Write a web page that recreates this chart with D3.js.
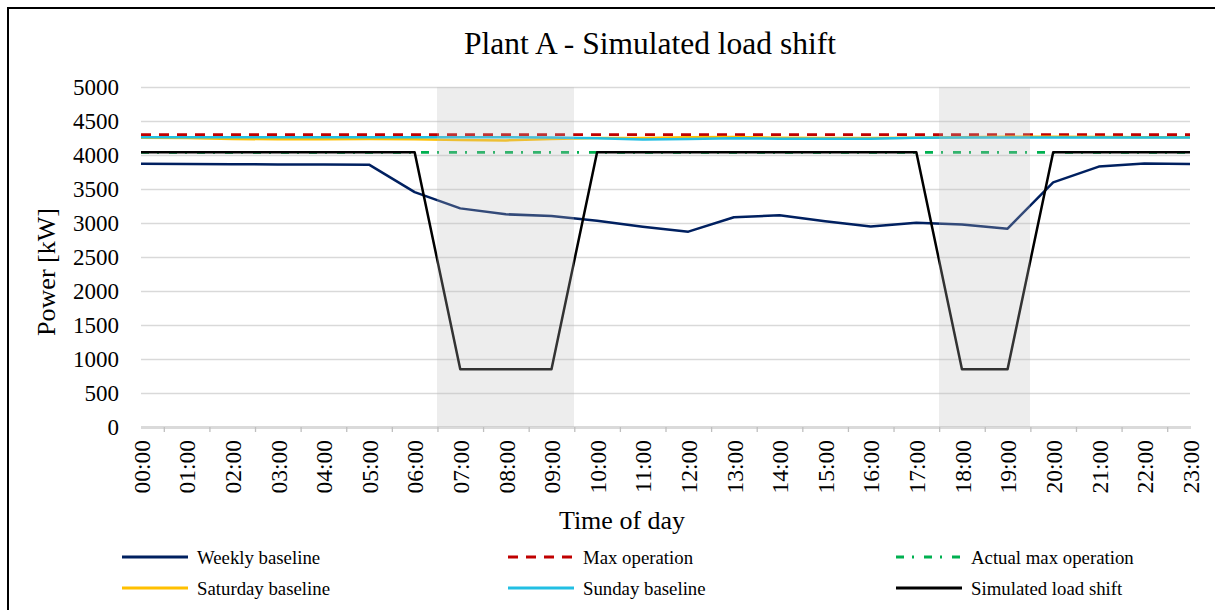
<!DOCTYPE html>
<html>
<head>
<meta charset="utf-8">
<script src="https://cdn.jsdelivr.net/npm/d3@7"></script>
<style>
    body { margin: 0; background: #fff; }
    svg { display: block; }
    svg text { font-family: "Liberation Serif", "Times New Roman", serif; fill: #000; }
</style>
</head>
<body>
<div id="chart"></div>
<script>
// ==========================
// Data
// ==========================
const hours = ["00:00", "01:00", "02:00", "03:00", "04:00", "05:00", "06:00", "07:00",
    "08:00", "09:00", "10:00", "11:00", "12:00", "13:00", "14:00", "15:00",
    "16:00", "17:00", "18:00", "19:00", "20:00", "21:00", "22:00", "23:00"];

const weeklyBaseline = [3872, 3868, 3865, 3862, 3860, 3858, 3455, 3215, 3128, 3103, 3032, 2945,
    2873, 3084, 3115, 3025, 2948, 3004, 2978, 2917, 3598, 3830, 3875, 3868];
const maxOperation = [4300, 4300, 4300, 4300, 4300, 4300, 4300, 4300, 4300, 4300, 4300, 4300,
    4300, 4300, 4300, 4300, 4300, 4300, 4300, 4300, 4300, 4300, 4300, 4300];
const actualMaxOperation = [4040, 4040, 4040, 4040, 4040, 4040, 4040, 4040, 4040, 4040, 4040, 4040,
    4040, 4040, 4040, 4040, 4040, 4040, 4040, 4040, 4040, 4040, 4040, 4040];
const saturdayBaseline = [4255, 4250, 4235, 4232, 4232, 4235, 4232, 4220, 4215, 4235, 4250, 4250,
    4262, 4265, 4255, 4250, 4250, 4255, 4260, 4268, 4268, 4265, 4262, 4262];
const sundayBaseline = [4262, 4262, 4260, 4260, 4260, 4260, 4262, 4262, 4260, 4258, 4245, 4228,
    4235, 4245, 4240, 4240, 4240, 4255, 4258, 4258, 4258, 4258, 4258, 4258];
const simulatedLoadShift = [4040, 4040, 4040, 4040, 4040, 4040, 4040, 850, 850, 850, 4040, 4040,
    4040, 4040, 4040, 4040, 4040, 4040, 850, 850, 4040, 4040, 4040, 4040];
// peak windows (grey columns)
const peakWindow = [0, 0, 0, 0, 0, 0, 0, 5000, 5000, 5000, 0, 0,
    0, 0, 0, 0, 0, 0, 5000, 5000, 0, 0, 0, 0];

const yTicks = [0, 500, 1000, 1500, 2000, 2500, 3000, 3500, 4000, 4500, 5000];

const series = [
    { name: "Weekly baseline", values: weeklyBaseline, color: "#002060", dash: null },
    { name: "Max operation", values: maxOperation, color: "#c00000", dash: "10,8" },
    { name: "Actual max operation", values: actualMaxOperation, color: "#00b050", dash: "8,8,2,10" },
    { name: "Saturday baseline", values: saturdayBaseline, color: "#ffc000", dash: null },
    { name: "Sunday baseline", values: sundayBaseline, color: "#22bfe3", dash: null },
    { name: "Simulated load shift", values: simulatedLoadShift, color: "#000000", dash: null }
];

// ==========================
// Chart
// ==========================
const W = 1215, H = 610;
const plot = { left: 141, right: 1190, top: 87, bottom: 427 };

const svg = d3.select("#chart")
    .append("svg")
    .attr("width", W)
    .attr("height", H);

// outer frame (only left/top edges are visible in the original)
svg.append("rect")
    .attr("x", 8).attr("y", 8)
    .attr("width", W).attr("height", H)
    .attr("fill", "none")
    .attr("stroke", "#000")
    .attr("stroke-width", 2);

const x = d3.scaleLinear().domain([0, hours.length - 1]).range([plot.left, plot.right]);
const y = d3.scaleLinear().domain([0, 5000]).range([plot.bottom, plot.top]);

// gridlines
svg.append("g")
    .attr("transform", `translate(${plot.left},0)`)
    .call(d3.axisLeft(y).tickValues(yTicks.slice(1)).tickSize(-(plot.right - plot.left)).tickFormat(""))
    .call(g => g.select(".domain").remove())
    .selectAll("line")
    .attr("stroke", "#d9d9d9")
    .attr("stroke-width", 1.3);

// y axis labels
svg.append("g")
    .attr("transform", `translate(${plot.left},0)`)
    .call(d3.axisLeft(y).tickValues(yTicks).tickFormat(d3.format("d")).tickSize(0).tickPadding(22))
    .attr("font-family", null)
    .call(g => g.select(".domain").remove())
    .selectAll("text")
    .style("font-size", "23px");

// x axis: hatched base line + labels
const xAxis = svg.append("g")
    .attr("transform", `translate(0,${plot.bottom})`)
    .call(d3.axisBottom(x)
        .tickValues(d3.range(hours.length))
        .tickFormat(i => hours[i])
        .tickSize(0)
        .tickSizeOuter(0))
    .attr("font-family", null);

xAxis.select(".domain")
    .attr("stroke", "#b5b5b5")
    .attr("stroke-width", 3)
    .attr("stroke-dasharray", "1,1");

xAxis.selectAll("text")
    .attr("transform", "rotate(-90)")
    .attr("text-anchor", "end")
    .attr("x", -13)
    .attr("y", 0)
    .attr("dy", "0.35em")
    .style("font-size", "23.5px");

// tick marks sit between the categories
svg.append("g")
    .attr("transform", `translate(0,${plot.bottom})`)
    .call(d3.axisBottom(x).tickValues(d3.range(0.5, hours.length - 1, 1)).tickSize(5).tickFormat(""))
    .call(g => g.select(".domain").remove())
    .selectAll("line")
    .attr("stroke", "#bfbfbf")
    .attr("stroke-width", 1.3);

// lines
const line = d3.line()
    .x((d, i) => x(i))
    .y(d => y(d));

svg.selectAll(".series")
    .data(series)
    .enter()
    .append("path")
    .attr("class", "series")
    .attr("d", d => line(d.values))
    .attr("fill", "none")
    .attr("stroke", d => d.color)
    .attr("stroke-width", d => d.dash ? 2.8 : 2.5)
    .attr("stroke-dasharray", d => d.dash)
    .attr("stroke-linejoin", "round");

// peak windows, translucent grey over the lines
const bandW = x(1) - x(0);
svg.selectAll(".peak")
    .data(peakWindow.map((v, i) => ({ i, v })).filter(d => d.v > 0))
    .enter()
    .append("rect")
    .attr("class", "peak")
    .attr("x", d => x(d.i) - bandW / 2)
    .attr("y", d => y(d.v))
    .attr("width", bandW)
    .attr("height", d => y(0) - y(d.v))
    .attr("fill", "#bdbdbd")
    .attr("opacity", 0.27)
    .attr("shape-rendering", "crispEdges");

// titles
svg.append("text")
    .attr("x", 650)
    .attr("y", 54)
    .attr("text-anchor", "middle")
    .style("font-size", "31.5px")
    .text("Plant A - Simulated load shift");

svg.append("text")
    .attr("x", -272)
    .attr("y", 55)
    .attr("transform", "rotate(-90)")
    .attr("text-anchor", "middle")
    .style("font-size", "26px")
    .text("Power [kW]");

svg.append("text")
    .attr("x", 622)
    .attr("y", 529)
    .attr("text-anchor", "middle")
    .style("font-size", "26px")
    .text("Time of day");

// legend (3 columns x 2 rows)
const legendCols = [122, 508, 896];
const legendRows = [557, 588];

const legend = svg.selectAll(".legend")
    .data(series)
    .enter()
    .append("g")
    .attr("class", "legend")
    .attr("transform", (d, i) => `translate(${legendCols[i % 3]},${legendRows[Math.floor(i / 3)]})`);

legend.append("line")
    .attr("x1", 0)
    .attr("x2", 66)
    .attr("stroke", d => d.color)
    .attr("stroke-width", 2.8)
    .attr("stroke-dasharray", d => d.dash);

legend.append("text")
    .attr("x", 75)
    .attr("dy", "0.35em")
    .style("font-size", "18.8px")
    .text(d => d.name);
</script>
</body>
</html>
